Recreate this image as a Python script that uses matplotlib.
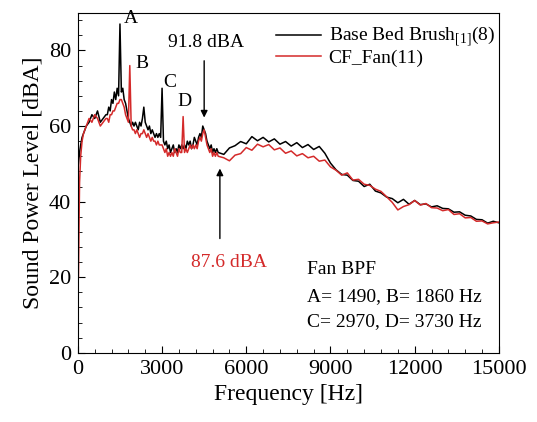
"""
Sound power spectrum: base bed brush vs CF fan.
"""

import matplotlib
matplotlib.use("Agg")
import matplotlib.pyplot as plt
from matplotlib.ticker import MultipleLocator, AutoMinorLocator

plt.rcParams["font.family"] = ["Liberation Serif", "DejaVu Serif"]
plt.rcParams["mathtext.fontset"] = "custom"
plt.rcParams["mathtext.rm"] = "Liberation Serif"

# frequency samples [Hz]
freq = [
    20, 60, 100, 150, 200, 300, 400, 500, 600, 700, 800, 900, 1000,
    1050, 1100, 1150, 1200, 1250, 1300, 1350, 1400, 1450, 1500,
    1550, 1600, 1650, 1700, 1750, 1800, 1850, 1900, 1950, 2000,
    2050, 2100, 2150, 2200, 2250, 2300, 2350, 2400, 2450, 2500,
    2550, 2600, 2650, 2700, 2750, 2800, 2850, 2900, 2950, 3000,
    3050, 3100, 3150, 3200, 3250, 3300, 3350, 3400, 3450, 3500,
    3550, 3600, 3650, 3700, 3750, 3800, 3850, 3900, 3950, 4000,
    4050, 4100, 4150, 4200, 4250, 4300, 4350, 4400, 4450, 4500,
    4550, 4600, 4650, 4700, 4750, 4800, 4850, 4900, 4950, 5000,
    5200, 5400, 5600, 5800, 6000, 6200, 6400, 6600, 6800, 7000,
    7200, 7400, 7600, 7800, 8000, 8200, 8400, 8600, 8800, 9000,
    9200, 9400, 9600, 9800, 10000, 10200, 10400, 10600, 10800, 11000,
    11200, 11400, 11600, 11800, 12000, 12200, 12400, 12600, 12800, 13000,
    13200, 13400, 13600, 13800, 14000, 14200, 14400, 14600, 14800, 15000,
]

# Base Bed Brush [1] (8) [dBA]
base_level = [
    50, 53, 55, 57, 58, 60, 61, 63, 62, 64, 61, 62, 63,
    63, 65, 64, 67, 66, 69, 67, 70, 68, 87,
    69, 70, 67, 66, 64, 62, 61, 60, 61, 60,
    61, 60, 59, 61, 60, 62, 65, 61, 60, 59,
    60, 58, 59, 58, 57, 58, 57, 58, 57, 70,
    56, 55, 56, 54, 55, 53, 54, 55, 53, 54,
    53, 55, 54, 55, 54, 55, 54, 56, 55, 56,
    54, 55, 57, 56, 55, 57, 58, 57, 60, 59,
    58, 56, 55, 54, 55, 53, 54, 53, 54, 53,
    52.5, 54.2, 54.8, 55.9, 55.3, 57.2, 56.1, 57.0, 55.8, 56.6,
    55.2, 55.9, 54.7, 55.6, 54.3, 55.1, 53.8, 54.6, 52.8, 50.2,
    48.4, 47.2, 47.0, 45.6, 45.4, 44.0, 44.6, 42.8, 42.3, 41.2,
    40.8, 39.7, 40.6, 39.3, 40.3, 39.2, 39.4, 38.6, 38.9, 38.2,
    38.1, 37.2, 37.3, 36.4, 36.2, 35.3, 35.2, 34.3, 34.8, 34.4,
]

# CF_Fan (11) [dBA]
fan_level = [
    20, 45, 52, 56, 58, 60, 62, 61, 63, 62, 60, 61, 62,
    62, 61, 63, 63, 64, 64, 65, 66, 66, 67,
    67, 66, 65, 63, 62, 61, 76, 60, 59, 59,
    58, 59, 58, 57, 58, 58, 59, 58, 57, 58,
    57, 56, 57, 56, 56, 55, 56, 55, 55, 55,
    54, 53, 54, 52, 53, 52, 53, 52, 54, 53,
    52, 54, 53, 53, 62.5, 53, 54, 53, 54, 55,
    54, 55, 54, 55, 54, 56, 57, 56, 58, 59,
    57, 55, 54, 53, 54, 52, 53, 52, 53, 52,
    51.6, 50.8, 52.3, 52.7, 54.3, 53.6, 55.2, 54.5, 55.1, 53.7,
    54.2, 52.8, 53.4, 52.1, 52.7, 51.6, 52.0, 50.7, 51.0, 49.2,
    48.3, 47.0, 47.6, 45.7, 45.9, 44.6, 44.3, 43.3, 42.7, 41.3,
    39.8, 37.8, 38.7, 39.2, 40.3, 39.1, 39.5, 38.4, 38.3, 37.6,
    37.9, 36.6, 36.8, 35.7, 35.8, 34.8, 34.9, 34.1, 34.4, 34.6,
]

RED = "#d42a2a"


def main() -> None:
    fig = plt.figure(figsize=(5.37, 4.22), dpi=100)
    ax = fig.add_axes([0.145, 0.164, 0.784, 0.806])

    ax.plot(freq, base_level, color="black", linewidth=1.1,
            label=r"Base Bed Brush$_{[1]}$(8)")
    ax.plot(freq, fan_level, color=RED, linewidth=1.1,
            label="CF_Fan(11)")

    ax.set_xlim(0, 15000)
    ax.set_ylim(0, 90)
    ax.xaxis.set_major_locator(MultipleLocator(3000))
    ax.xaxis.set_minor_locator(AutoMinorLocator(5))
    ax.yaxis.set_major_locator(MultipleLocator(20))
    ax.yaxis.set_minor_locator(AutoMinorLocator(5))
    ax.tick_params(which="both", direction="in", top=False, right=False,
                   labelsize=16, pad=5)
    ax.tick_params(which="major", length=5)
    ax.tick_params(which="minor", length=3)

    ax.set_xlabel("Frequency [Hz]", fontsize=17, labelpad=4)
    ax.set_ylabel("Sound Power Level [dBA]", fontsize=17, labelpad=4)

    # peak labels
    ax.text(1650, 88.5, "A", fontsize=14, ha="left", va="center")
    ax.text(2050, 76.5, "B", fontsize=14, ha="left", va="center")
    ax.text(3050, 71.5, "C", fontsize=14, ha="left", va="center")
    ax.text(3550, 66.5, "D", fontsize=14, ha="left", va="center")

    # overall levels
    ax.annotate("", xy=(4500, 61.5), xytext=(4500, 78),
                arrowprops=dict(arrowstyle="-|>", color="black", lw=1,
                                mutation_scale=10))
    ax.text(4560, 82, "91.8 dBA", fontsize=14, ha="center", va="center")
    ax.annotate("", xy=(5060, 49.5), xytext=(5060, 29.5),
                arrowprops=dict(arrowstyle="-|>", color="black", lw=1,
                                mutation_scale=10))
    ax.text(5400, 24, "87.6 dBA", fontsize=14, color=RED,
            ha="center", va="center")

    ax.text(8150, 22, "Fan BPF", fontsize=14, ha="left", va="center")
    ax.text(8150, 15, "A= 1490, B= 1860 Hz", fontsize=14,
            ha="left", va="center")
    ax.text(8150, 8.2, "C= 2970, D= 3730 Hz", fontsize=14,
            ha="left", va="center")

    ax.legend(loc="upper right", bbox_to_anchor=(1.0, 0.975),
              frameon=False, fontsize=14,
              handlelength=2.3, handletextpad=0.4, labelspacing=0.0,
              borderaxespad=0.0, borderpad=0.2)

    fig.savefig("out.png", dpi=100)


if __name__ == "__main__":
    main()
